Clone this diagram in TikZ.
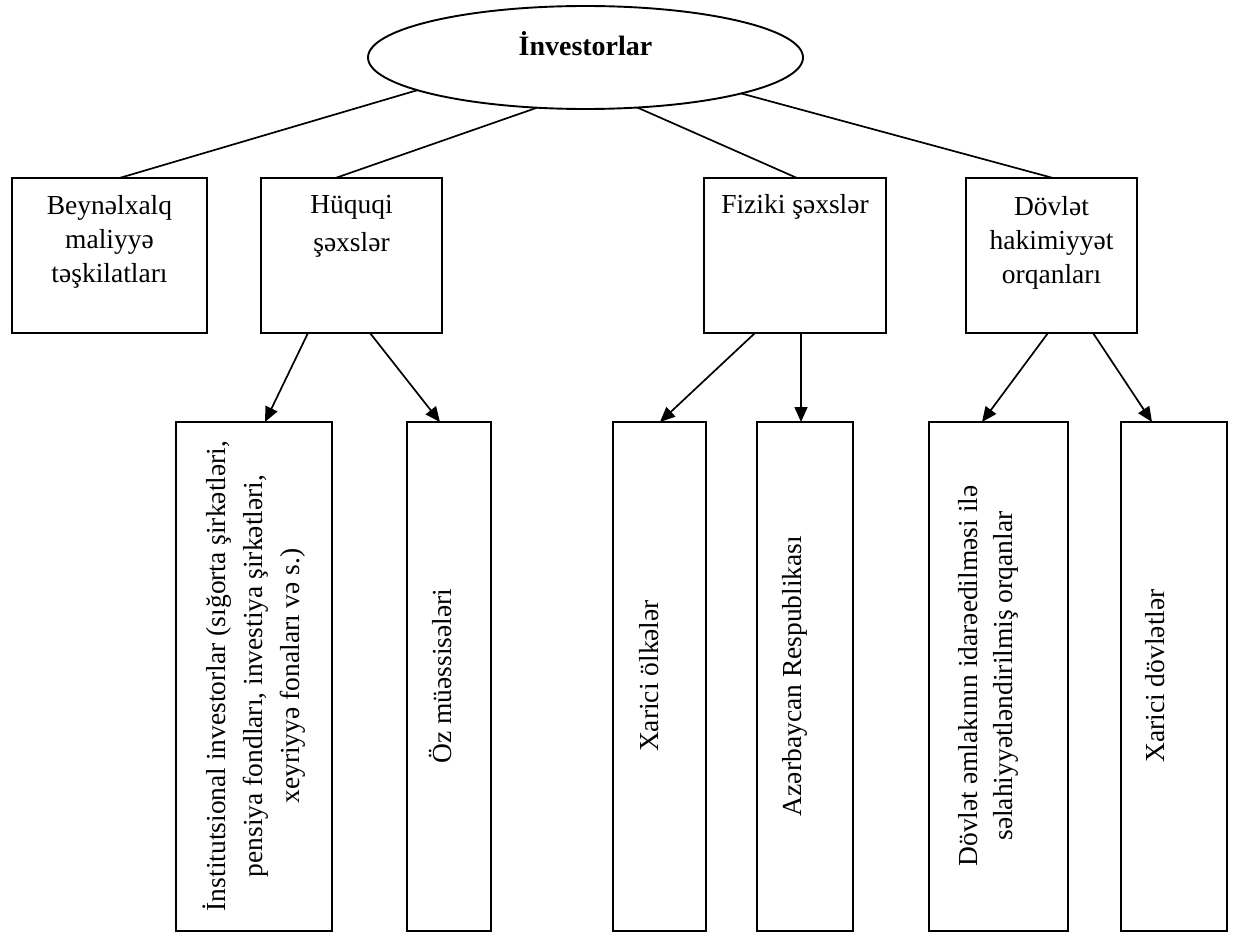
\documentclass[tikz,border=0pt]{standalone}
\usepackage{fontspec}
\setmainfont{Liberation Serif}
\usetikzlibrary{shapes.geometric,arrows.meta,calc}
\begin{document}
\begin{tikzpicture}[x=1pt,y=-1pt,
  boxstyle/.style={draw, line width=1.9pt, inner sep=0pt, outer sep=0pt},
  conn/.style={line width=1.7pt},
  arr/.style={line width=1.7pt, -{Triangle[length=15pt,width=13pt]}},
  toptext/.style={anchor=north, inner sep=0pt, align=center, font=\fontsize{27.5}{34}\selectfont},
  vtext/.style={rotate=90, inner sep=0pt, align=center, font=\fontsize{27.5}{37}\selectfont}
]
\useasboundingbox (0,0) rectangle (1233,941);
% top ellipse
\node[boxstyle, ellipse, minimum width=435pt, minimum height=103pt] (ell) at (585.5,57.5) {};
\node[inner sep=0pt, font=\fontsize{28}{30}\selectfont\bfseries] (ellt) at (585.5,44) {İnvestorlar};
% top boxes
\node[boxstyle, minimum width=195pt, minimum height=155pt] (b1) at (109.5,255.5) {};
\node[boxstyle, minimum width=181pt, minimum height=155pt] (b2) at (351.5,255.5) {};
\node[boxstyle, minimum width=182pt, minimum height=155pt] (b3) at (795,255.5) {};
\node[boxstyle, minimum width=171pt, minimum height=155pt] (b4) at (1051.5,255.5) {};
\node[toptext] (t1) at (109.5,195) {Beynəlxalq\\maliyyə\\təşkilatları};
\node[toptext, font=\fontsize{27.5}{38}\selectfont] (t2) at (351.5,195) {Hüquqi\\şəxslər};
\node[toptext] (t3) at (795,194) {Fiziki şəxslər};
\node[toptext] (t4) at (1051.5,196) {Dövlət\\hakimiyyət\\orqanları};
% bottom boxes
\node[boxstyle, minimum width=156pt, minimum height=509pt] (ba) at (254,676.5) {};
\node[boxstyle, minimum width=84pt, minimum height=509pt] (bb) at (449,676.5) {};
\node[boxstyle, minimum width=93pt, minimum height=509pt] (bc) at (659.5,676.5) {};
\node[boxstyle, minimum width=96pt, minimum height=509pt] (bd) at (805,676.5) {};
\node[boxstyle, minimum width=139pt, minimum height=509pt] (be) at (998.5,676.5) {};
\node[boxstyle, minimum width=106pt, minimum height=509pt] (bf) at (1174,676.5) {};
\node[vtext] (ta) at (254,676) {İnstitutsional investorlar (sığorta şirkətləri,\\pensiya fondları, investiya şirkətləri,\\xeyriyyə fonaları və s.)};
\node[vtext] (tb) at (440,676) {Öz müəssisələri};
\node[vtext] (tc) at (649,676) {Xarici ölkələr};
\node[vtext] (td) at (795,676) {Azərbaycan Respublikası};
\node[vtext, font=\fontsize{27.5}{35}\selectfont] (te) at (988,676) {Dövlət əmlakının idarəedilməsi ilə\\səlahiyyətləndirilmiş orqanlar};
\node[vtext] (tf) at (1155,676) {Xarici dövlətlər};
% connectors from ellipse
\draw[conn] (ell.191.8) -- ($(b1.north)+(10,0)$);
\draw[conn] (ell.226.8) -- ($(b2.north)+(-16,0)$);
\draw[conn] (ell.316.6) -- ($(b3.north)+(2,0)$);
\draw[conn] (ell.347.6) -- ($(b4.north)+(1.5,0)$);
% arrows
\draw[arr] ($(b2.south)+(-43.5,0)$) -- ($(ba.north)+(11,0)$);
\draw[arr] ($(b2.south)+(18.5,0)$) -- ($(bb.north)+(-9,0)$);
\draw[arr] ($(b3.south)+(-40,0)$) -- ($(bc.north)+(0.5,0)$);
\draw[arr] ($(b3.south)+(6,0)$) -- ($(bd.north)+(-4,0)$);
\draw[arr] ($(b4.south)+(-3.5,0)$) -- ($(be.north)+(-16.5,0)$);
\draw[arr] ($(b4.south)+(41.5,0)$) -- ($(bf.north)+(-22,0)$);
\end{tikzpicture}
\end{document}
